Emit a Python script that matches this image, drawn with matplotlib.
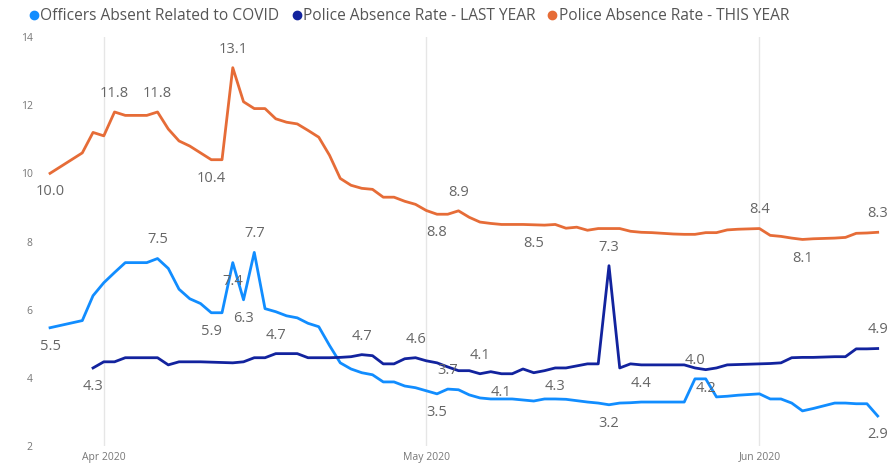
import matplotlib.pyplot as plt
import matplotlib.dates as mdates
from matplotlib.lines import Line2D
import numpy as np
import pandas as pd

plt.rcParams['font.family'] = ['Open Sans', 'DejaVu Sans']

# daily values, 27 Mar 2020 - 12 Jun 2020
dates = pd.date_range('2020-03-27', '2020-06-12', freq='D')

covid = [5.47, 5.54, 5.61, 5.68, 6.41, 6.79, 7.09, 7.38, 7.38, 7.38,
         7.5, 7.21, 6.6, 6.32, 6.18, 5.91, 5.91, 7.38, 6.29, 7.68,
         6.03, 5.94, 5.82, 5.76, 5.6, 5.5, 4.95, 4.44, 4.26, 4.15,
         4.09, 3.88, 3.88, 3.76, 3.71, 3.62, 3.53, 3.67, 3.65, 3.5,
         3.41, 3.38, 3.38, 3.38, 3.35, 3.32, 3.38, 3.38, 3.37, 3.33,
         3.29, 3.26, 3.21, 3.26, 3.27, 3.29, 3.29, 3.29, 3.29, 3.29,
         3.97, 3.97, 3.44, 3.46, 3.49, 3.51, 3.53, 3.38, 3.38, 3.26,
         3.03, 3.1, 3.18, 3.26, 3.26, 3.24, 3.24, 2.88]

last_year = [np.nan, np.nan, np.nan, np.nan, 4.29, 4.47, 4.47, 4.59, 4.59, 4.59,
             4.59, 4.38, 4.47, 4.47, 4.47, 4.46, 4.45, 4.44, 4.47, 4.59,
             4.59, 4.71, 4.71, 4.71, 4.59, 4.59, 4.59, 4.6, 4.62, 4.68,
             4.65, 4.41, 4.41, 4.56, 4.59, 4.5, 4.44, 4.32, 4.21, 4.21,
             4.12, 4.18, 4.12, 4.12, 4.26, 4.15, 4.21, 4.29, 4.29, 4.35,
             4.41, 4.41, 7.29, 4.29, 4.41, 4.38, 4.38, 4.38, 4.38, 4.38,
             4.29, 4.24, 4.29, 4.38, 4.39, 4.4, 4.41, 4.42, 4.44, 4.59,
             4.6, 4.6, 4.61, 4.62, 4.62, 4.85, 4.85, 4.86]

this_year = [10.0, 10.2, 10.4, 10.6, 11.2, 11.1, 11.8, 11.7, 11.7, 11.7,
             11.8, 11.3, 10.95, 10.8, 10.6, 10.4, 10.4, 13.1, 12.1, 11.9,
             11.9, 11.6, 11.5, 11.45, 11.26, 11.06, 10.53, 9.85, 9.65, 9.56,
             9.53, 9.3, 9.3, 9.18, 9.09, 8.91, 8.8, 8.8, 8.9, 8.71,
             8.57, 8.53, 8.5, 8.5, 8.5, 8.49, 8.48, 8.5, 8.39, 8.42,
             8.33, 8.38, 8.38, 8.38, 8.3, 8.27, 8.26, 8.24, 8.22, 8.21,
             8.21, 8.26, 8.26, 8.34, 8.36, 8.37, 8.38, 8.18, 8.15, 8.1,
             8.06, 8.08, 8.09, 8.1, 8.12, 8.24, 8.25, 8.27]

labels = ['Officers Absent Related to COVID',
          'Police Absence Rate - LAST YEAR',
          'Police Absence Rate - THIS YEAR']
colors = ['#118DFF', '#12239E', '#E66C37']

# which points get a data label (index, 1 = above / -1 = below)
covid_lbl = [(0, -1), (10, 1), (15, -1), (17, -1), (18, -1), (19, 1),
             (36, -1), (37, 1), (52, -1), (60, 1), (77, -1)]
last_lbl = [(4, -1), (21, 1), (29, 1), (34, 1), (40, 1), (42, -1), (47, -1),
            (52, 1), (55, -1), (61, -1), (77, 1)]
this_lbl = [(0, -1), (6, 1), (10, 1), (15, -1), (17, 1), (36, -1), (38, 1),
            (45, -1), (66, 1), (70, -1), (77, 1)]

fig = plt.figure(figsize=(8.96, 4.65), dpi=100)
ax = fig.add_axes([48/896, 19/465, 834/896, 409/465])

series = [covid, last_year, this_year]
lbls = [covid_lbl, last_lbl, this_lbl]
for vals, c, spec in zip(series, colors, lbls):
    ax.plot(dates, vals, color=c, linewidth=2, solid_joinstyle='round')
    for i, d in spec:
        ax.annotate('%.1f' % vals[i], (dates[i], vals[i]),
                    xytext=(0, 8 * d), textcoords='offset points',
                    ha='center', va='bottom' if d > 0 else 'top',
                    fontsize=10.5, color='#666666')

ax.set_ylim(2, 14)
ax.set_yticks([2, 4, 6, 8, 10, 12, 14])
day = pd.Timedelta(days=1)
ax.set_xlim(dates[0] - 0.19 * day, dates[0] + 77.4 * day)
ax.xaxis.set_major_locator(mdates.MonthLocator())
ax.xaxis.set_major_formatter(mdates.DateFormatter('%b %Y'))
ax.grid(axis='x', color='#e6e6e6', linewidth=1)
ax.tick_params(length=0, labelsize=7.5, labelcolor='#777777')
ax.tick_params(axis='y', pad=11)
ax.tick_params(axis='x', pad=4)
for s in ax.spines.values():
    s.set_visible(False)

handles = [Line2D([], [], marker='o', linestyle='', color=c, markersize=6) for c in colors]
fig.legend(handles, labels, loc='upper left', bbox_to_anchor=(0.012, 1.012), ncol=3,
           frameon=False, fontsize=11.2, handletextpad=-0.2, columnspacing=0.5,
           labelcolor='#555555', handlelength=1.2)

plt.savefig('out.png')
